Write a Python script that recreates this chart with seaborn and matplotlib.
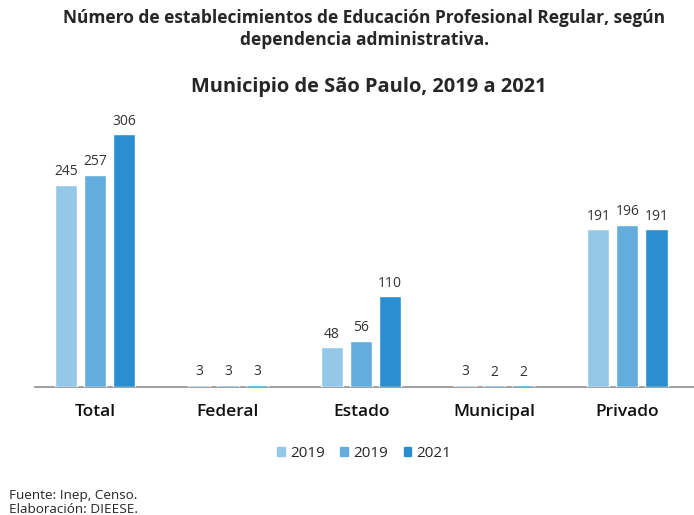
import matplotlib
matplotlib.use("Agg")
import matplotlib.pyplot as plt
import seaborn as sns
import pandas as pd

categories = ["Total", "Federal", "Estado", "Municipal", "Privado"]
series_keys = ["s1", "s2", "s3"]
series_labels = ["2019", "2019", "2021"]
vals_s1 = [245, 3, 48, 3, 191]
vals_s2 = [257, 3, 56, 2, 196]
vals_s3 = [306, 3, 110, 2, 191]
colors = ["#95c8e8", "#62addd", "#2a8fd0"]

rows = []
for key, vals in zip(series_keys, [vals_s1, vals_s2, vals_s3]):
    for cat, v in zip(categories, vals):
        rows.append({"cat": cat, "serie": key, "valor": v})
df = pd.DataFrame(rows)

sns.set_style("white")
plt.rcParams["font.family"] = ["Open Sans", "DejaVu Sans"]

fig = plt.figure(figsize=(6.94, 5.15), dpi=100)
ax = fig.add_axes([0.0504, 0.2485, 0.9496, 0.528])

sns.barplot(data=df, x="cat", y="valor", hue="serie", hue_order=series_keys,
            order=categories, palette=colors, width=0.656, gap=0.24,
            saturation=1, legend=False, ax=ax)
for p in ax.patches:
    p.set_zorder(3)

for container in ax.containers:
    ax.bar_label(container, padding=4, fontsize=10, color="#333333")

ax.set_xlim(-0.45, 4.5)
ax.set_ylim(0, 329)
ax.set_xlabel("")
ax.set_ylabel("")
ax.set_yticks([])
ax.tick_params(axis="x", length=0, labelsize=12.5, pad=12)
for lab in ax.get_xticklabels():
    lab.set_color("#111111")
    lab.set_fontweight("semibold")
for s in ["top", "right", "left"]:
    ax.spines[s].set_visible(False)
ax.spines["bottom"].set_color("#999999")
ax.spines["bottom"].set_linewidth(1.3)

handles = [plt.Rectangle((0, 0), 1, 1, color=c) for c in colors]
fig.legend(handles, series_labels, loc="center", bbox_to_anchor=(0.525, 0.12),
           ncol=3, frameon=False, fontsize=11, handlelength=0.5, handleheight=0.5,
           columnspacing=1.0, handletextpad=0.35)

fig.text(0.525, 0.944, "Número de establecimientos de Educación Profesional Regular, según\ndependencia administrativa.",
         ha="center", va="center", fontsize=12.5, fontweight="bold", linespacing=1.25)
fig.text(0.532, 0.832, "Municipio de São Paulo, 2019 a 2021",
         ha="center", va="center", fontsize=14.4, fontweight="bold")
fig.text(0.013, 0.025, "Fuente: Inep, Censo.\nElaboración: DIEESE.",
         ha="left", va="center", fontsize=9.7, linespacing=1.1)

fig.savefig("out.png", dpi=100)
